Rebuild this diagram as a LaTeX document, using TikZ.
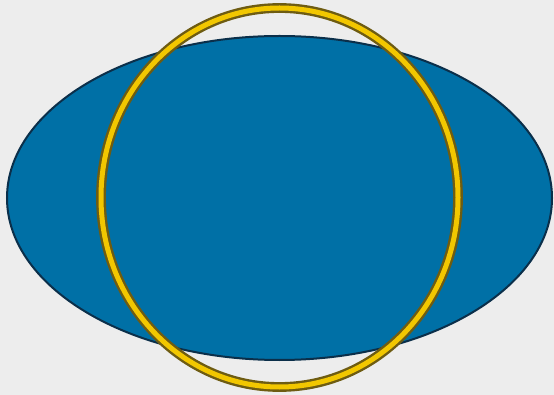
\documentclass[tikz,border=0pt]{standalone}
\usepackage{tikz}
\definecolor{Backdrop}{HTML}{EDEDED}
\definecolor{Sea}{HTML}{0070A6}
\definecolor{SeaEdge}{HTML}{0B2F4A}
\definecolor{Gold}{HTML}{F2C700}
\definecolor{GoldEdge}{HTML}{6E5C12}
\tikzset{disc/.style={draw=SeaEdge,fill=Sea,line width=2pt},
  ring/.style={draw=GoldEdge,line width=2.4pt,double=Gold,double distance=5pt}}

\begin{document}
\begin{tikzpicture}[x=1pt,y=-1pt]
    \fill[Backdrop] (0,0) rectangle (554,395);
    \useasboundingbox (0,0) rectangle (554,395);
    \draw[disc] (279.5,198) ellipse [x radius=272.5,y radius=162];
    \draw[ring] (279.5,197.5) ellipse [x radius=178.5,y radius=189.5];
  \end{tikzpicture}
\end{document}
